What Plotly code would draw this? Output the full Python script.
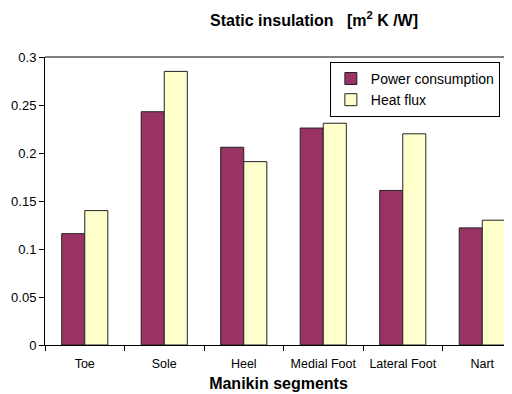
import plotly.graph_objects as go

categories = ["Toe", "Sole", "Heel", "Medial Foot", "Lateral Foot", "Nart"]
power_consumption = [0.116, 0.243, 0.206, 0.226, 0.161, 0.122]
heat_flux = [0.140, 0.285, 0.191, 0.231, 0.220, 0.130]
y_ticks = [0, 0.05, 0.1, 0.15, 0.2, 0.25, 0.3]

fig = go.Figure()
fig.add_trace(go.Bar(x=categories, y=power_consumption, name="Power consumption",
                     marker=dict(color="#993366", line=dict(color="#222222", width=1))))
fig.add_trace(go.Bar(x=categories, y=heat_flux, name="Heat flux",
                     marker=dict(color="#FFFFCC", line=dict(color="#222222", width=1))))

fig.update_layout(
    width=504, height=386,
    margin=dict(l=37, r=0, t=49, b=49),
    paper_bgcolor="white", plot_bgcolor="white",
    font=dict(family="Liberation Sans, Arial, sans-serif", color="black", size=12),
    barmode="group", bargap=0.42, bargroupgap=0,
    showlegend=True,
    legend=dict(x=0.61, y=0.983, xanchor="left", yanchor="top",
                bgcolor="white", bordercolor="black", borderwidth=1,
                font=dict(size=14), itemwidth=30, tracegroupgap=0),
    annotations=[dict(text="<b>Static insulation   [m<sup>2</sup> K /W]</b>",
                      xref="paper", yref="paper", x=0.576, y=1.0, yshift=38,
                      xanchor="center", yanchor="middle", showarrow=False,
                      font=dict(size=16))],
)
fig.update_xaxes(
    range=[-0.5, 5.374], showline=True, linecolor="black", linewidth=1,
    ticks="outside", tickson="boundaries", ticklen=5, tickcolor="black",
    showgrid=False, tickfont=dict(size=12.5), ticklabelstandoff=7,
    title=dict(text="<b>Manikin segments</b>", font=dict(size=16), standoff=7),
)
fig.update_yaxes(
    range=[0, 0.3], tickvals=y_ticks, ticktext=[f"{v:g}" for v in y_ticks],
    showline=True, linecolor="black", linewidth=1,
    ticks="outside", ticklen=5, tickcolor="black", showgrid=False,
    zeroline=False, tickfont=dict(size=13),
)
fig.add_shape(type="line", xref="paper", yref="paper", x0=0, x1=1, y0=1, y1=1,
              line=dict(color="black", width=1))

fig.write_html("out.html")
